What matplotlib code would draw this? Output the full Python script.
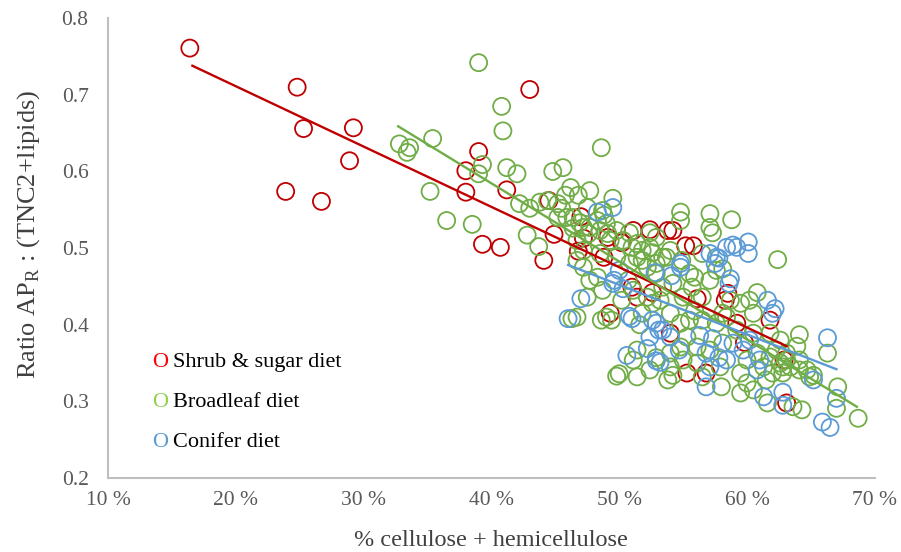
import matplotlib
matplotlib.use("Agg")
import matplotlib.pyplot as plt

# Shrub & sugar diet (red)
shrub_x = [16.4, 24.8, 25.3, 29.2, 28.9, 23.9, 26.7, 43.0, 39.0, 38.0, 38.0, 41.2,
           39.3, 40.7, 44.1, 44.5, 44.9, 47.0, 46.8, 47.2, 49.1, 48.8, 50.2, 51.1,
           52.4, 53.8, 54.2, 55.2, 55.8, 49.3, 51.4, 51.0, 54.0, 58.5, 58.3, 55.3,
           56.8, 61.8, 63.1, 59.2, 59.8, 52.6, 56.1, 62.9]
shrub_y = [0.761, 0.710, 0.656, 0.657, 0.614, 0.574, 0.561, 0.707, 0.626, 0.601, 0.573, 0.576,
           0.505, 0.501, 0.484, 0.562, 0.518, 0.541, 0.496, 0.513, 0.514, 0.488, 0.507, 0.523,
           0.524, 0.523, 0.523, 0.503, 0.503, 0.415, 0.436, 0.449, 0.389, 0.441, 0.432, 0.337,
           0.337, 0.406, 0.298, 0.402, 0.377, 0.442, 0.434, 0.354]

# Broadleaf diet (green)
broad_x = [32.8, 33.6, 33.4, 35.4, 35.2, 36.5, 39.0, 40.8, 40.9, 48.6, 39.3, 39.0,
           41.2, 42.0, 44.8, 45.6, 38.5, 42.8, 43.7, 46.2, 46.8, 45.8, 47.5, 42.2,
           43.0, 43.8, 44.4, 45.2, 45.5, 45.9, 47.2, 47.6, 48.3, 48.8, 49.5, 49.0,
           49.1, 50.3, 51.0, 51.4, 50.8, 52.4, 52.9, 54.8, 54.8, 57.1, 58.8, 57.3,
           62.4, 53.7, 55.9, 58.1, 57.6, 48.3, 45.2, 46.4, 46.4, 46.7, 47.7, 48.7,
           46.9, 47.7, 48.5, 49.8, 50.8, 52.4, 52.9, 49.3, 51.4, 51.8, 52.6, 53.4,
           54.0, 57.1, 56.5, 54.9, 51.8, 49.8, 48.5, 47.2, 46.7, 47.5, 46.7, 49.0,
           48.7, 50.2, 50.7, 47.7, 47.2, 52.2, 52.9, 53.4, 54.2, 55.0, 55.7, 56.5,
           57.1, 55.5, 52.2, 52.6, 51.8, 54.0, 54.8, 55.5, 56.5, 57.6, 58.1, 55.3,
           56.1, 54.8, 54.0, 52.9, 51.4, 51.1, 50.0, 52.4, 54.0, 55.0, 56.1, 57.1,
           58.1, 57.9, 56.5, 54.2, 51.4, 49.8, 53.8, 58.0, 60.8, 60.2, 59.5, 60.5,
           58.4, 59.2, 60.5, 61.8, 62.6, 64.1, 63.9, 66.3, 63.1, 62.3, 61.8, 60.8,
           60.0, 61.3, 62.6, 63.1, 63.4, 64.1, 64.7, 65.2, 59.5, 62.8, 60.0, 61.5,
           62.0, 62.8, 64.1, 64.9, 63.6, 64.3, 67.1, 67.0, 68.7, 60.5, 59.5, 49.4,
           48.6, 61.6, 46.3, 51.1, 51.6, 53.2, 55.9, 58.7]
broad_y = [0.636, 0.631, 0.625, 0.643, 0.574, 0.536, 0.742, 0.685, 0.653, 0.631, 0.609, 0.597,
           0.605, 0.597, 0.600, 0.605, 0.531, 0.517, 0.502, 0.579, 0.569, 0.569, 0.553, 0.558,
           0.552, 0.560, 0.562, 0.558, 0.552, 0.540, 0.527, 0.519, 0.536, 0.543, 0.565, 0.532,
           0.519, 0.510, 0.501, 0.488, 0.480, 0.501, 0.480, 0.547, 0.536, 0.545, 0.537, 0.520,
           0.485, 0.488, 0.462, 0.473, 0.471, 0.462, 0.540, 0.540, 0.526, 0.510, 0.575, 0.549,
           0.533, 0.527, 0.523, 0.523, 0.520, 0.520, 0.514, 0.510, 0.506, 0.497, 0.494, 0.488,
           0.497, 0.527, 0.493, 0.484, 0.484, 0.488, 0.493, 0.497, 0.484, 0.436, 0.410, 0.410,
           0.445, 0.432, 0.458, 0.458, 0.475, 0.475, 0.467, 0.449, 0.454, 0.436, 0.449, 0.436,
           0.458, 0.467, 0.436, 0.428, 0.415, 0.415, 0.402, 0.406, 0.406, 0.402, 0.415, 0.384,
           0.371, 0.371, 0.363, 0.357, 0.367, 0.354, 0.336, 0.341, 0.345, 0.354, 0.350, 0.367,
           0.376, 0.345, 0.332, 0.334, 0.332, 0.333, 0.328, 0.319, 0.442, 0.432, 0.428, 0.415,
           0.410, 0.393, 0.389, 0.389, 0.380, 0.387, 0.372, 0.363, 0.363, 0.367, 0.358, 0.363,
           0.354, 0.345, 0.350, 0.354, 0.345, 0.354, 0.341, 0.334, 0.337, 0.337, 0.324, 0.328,
           0.337, 0.345, 0.341, 0.332, 0.293, 0.289, 0.319, 0.291, 0.278, 0.315, 0.311, 0.406,
           0.406, 0.298, 0.408, 0.445, 0.400, 0.432, 0.418, 0.432]

# Conifer diet (blue)
conif_x = [48.3, 49.5, 57.1, 57.6, 58.4, 59.2, 60.1, 60.1, 57.8, 58.9, 54.8, 52.8,
           58.7, 50.0, 46.0, 47.0, 51.0, 50.6, 52.9, 52.6, 53.1, 54.7, 56.8, 58.6,
           61.6, 62.2, 60.8, 61.3, 62.8, 62.8, 65.2, 66.3, 67.0, 65.9, 66.5, 58.4,
           58.9, 61.0, 60.2, 50.3, 49.5, 50.8, 54.8, 54.1, 57.5, 49.6, 52.9, 53.4,
           54.0, 52.4, 52.2, 53.2, 56.3, 57.3, 56.8, 57.8, 57.1, 62.0, 59.7]
conif_y = [0.547, 0.553, 0.493, 0.488, 0.501, 0.501, 0.508, 0.493, 0.487, 0.504, 0.480, 0.468,
           0.460, 0.471, 0.408, 0.434, 0.408, 0.360, 0.353, 0.406, 0.393, 0.367, 0.319, 0.454,
           0.432, 0.421, 0.341, 0.306, 0.312, 0.295, 0.328, 0.383, 0.304, 0.273, 0.266, 0.354,
           0.376, 0.354, 0.380, 0.447, 0.454, 0.411, 0.475, 0.464, 0.480, 0.458, 0.402, 0.393,
           0.384, 0.384, 0.369, 0.351, 0.386, 0.382, 0.363, 0.357, 0.345, 0.415, 0.367]

# linear trendlines (end points)
shrub_fit_x, shrub_fit_y = [16.6, 63.1], [0.738, 0.372]
broad_fit_x, broad_fit_y = [32.7, 68.6], [0.659, 0.293]
conif_fit_x, conif_fit_y = [46.0, 67.0], [0.478, 0.342]

x_ticks = [10, 20, 30, 40, 50, 60, 70]
x_tick_labels = ["10 %", "20 %", "30 %", "40 %", "50 %", "60 %", "70 %"]
y_ticks = [0.2, 0.3, 0.4, 0.5, 0.6, 0.7, 0.8]

red, green, blue = "#C00000", "#70AD47", "#5B9BD5"
serif = ["Liberation Serif", "DejaVu Serif"]
plt.rcParams["font.family"] = serif

fig = plt.figure(figsize=(9.01, 5.52), dpi=100)
ax = fig.add_axes([0.1199, 0.134, 0.851, 0.833])

ms = 150
ax.scatter(shrub_x, shrub_y, s=ms, facecolors="none", edgecolors=red, linewidths=1.3, zorder=2)
ax.scatter(broad_x, broad_y, s=ms, facecolors="none", edgecolors=green, linewidths=1.3, zorder=2)
ax.scatter(conif_x, conif_y, s=ms, facecolors="none", edgecolors=blue, linewidths=1.3, zorder=2)

ax.plot(shrub_fit_x, shrub_fit_y, color=red, lw=1.7, zorder=3)
ax.plot(broad_fit_x, broad_fit_y, color=green, lw=1.7, zorder=3)
ax.plot(conif_fit_x, conif_fit_y, color=blue, lw=1.7, zorder=3)

ax.set_xlim(10, 70)
ax.set_ylim(0.2, 0.8)
ax.set_xticks(x_ticks)
ax.set_xticklabels(x_tick_labels)
ax.set_yticks(y_ticks)
ax.set_yticklabels([f"{v:.1f}" for v in y_ticks])
ax.tick_params(length=0, labelsize=15.5, labelcolor="#595959")
ax.tick_params(axis="x", pad=9)
ax.tick_params(axis="y", pad=14)

for side in ["top", "right"]:
    ax.spines[side].set_visible(False)
for side in ["left", "bottom"]:
    ax.spines[side].set_color("#BFBFBF")
    ax.spines[side].set_linewidth(1.5)

ax.set_xlabel("% cellulose + hemicellulose", fontsize=17.5, color="#404040", labelpad=15)
ax.set_ylabel(r"Ratio AP$_\mathregular{R}$ : (TNC2+lipids)", fontsize=19,
              color="#404040")
ax.yaxis.set_label_coords(-0.086, 0.53)

# legend made of coloured "O" letters and labels
legend = [("Shrub & sugar diet", "#FF0000"), ("Broadleaf diet", "#92D050"),
          ("Conifer diet", "#5B9BD5")]
for i, (label, col) in enumerate(legend):
    yy = 0.252 - i * 0.087
    ax.text(0.057, yy, "O", color=col, fontsize=16, transform=ax.transAxes, va="center")
    ax.text(0.085, yy, label, color="black", fontsize=16, transform=ax.transAxes, va="center")

plt.savefig("out.png", dpi=100)
